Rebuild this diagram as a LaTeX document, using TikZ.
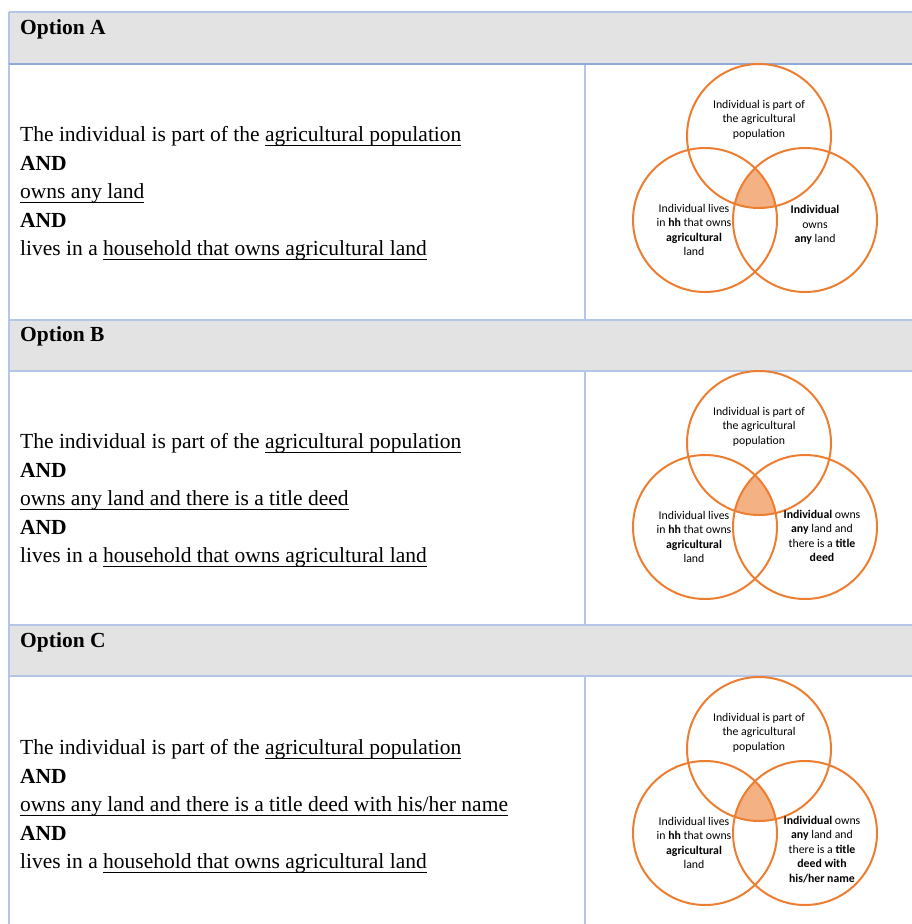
\documentclass[tikz,border=0pt]{standalone}
\usepackage{fontspec}
\setmainfont{Liberation Serif}
\newfontfamily\vennfont{Carlito}
\usepackage{tikz}
\usetikzlibrary{positioning}
\definecolor{ember}{HTML}{ED7D31}
\definecolor{peach}{HTML}{F4B183}
\definecolor{headgrey}{HTML}{E3E3E3}
\definecolor{gridblue}{HTML}{B4C6E7}
\definecolor{gridbold}{HTML}{8EAADB}
% underline at a fixed depth, crossing the descenders
\newsavebox\ulbox
\newcommand\uln[1]{\sbox\ulbox{#1}\rlap{\rule[-3.7pt]{\wd\ulbox}{0.9pt}}\usebox\ulbox}

\begin{document}
\begin{tikzpicture}[
  x=1pt, y=-1pt,
  ring/.style={circle, draw=ember, line width=2pt, minimum size=144pt, inner sep=0pt},
  core/.style={fill=peach},
  blurb/.style={font=\vennfont\fontsize{11.8}{14.4}\selectfont, align=center, inner sep=0pt},
  heading/.style={font=\bfseries\fontsize{21.5}{25}\selectfont, anchor=base west, inner sep=0pt},
  rowtext/.style={font=\fontsize{21.5}{28.5}\selectfont, align=left, anchor=west, inner sep=0pt},
  border/.style={draw=gridblue, line width=1.2pt},
]
\useasboundingbox (0,0) rectangle (912,924);

% grey heading bars
\fill[headgrey] (9,12) rectangle (912,63);
\fill[headgrey] (9,320) rectangle (912,371);
\fill[headgrey] (9,625) rectangle (912,676);

% table rules
\draw[border] (9,12) -- (912,12);
\draw[border] (9,12) -- (9,924);
\draw[border] (9,320) -- (912,320);
\draw[border] (9,371) -- (912,371);
\draw[border] (9,625) -- (912,625);
\draw[border] (9,676) -- (912,676);
\draw[border, draw=gridbold, line width=2.6pt] (9,64) -- (912,64);
\draw[border] (585,65) -- (585,320);
\draw[border] (585,371) -- (585,625);
\draw[border] (585,676) -- (585,924);

\node[heading] (optA) at (20,34) {Option A};
\node[heading] (optB) at (20,341) {Option B};
\node[heading] (optC) at (20,647) {Option C};

% --- option A ---
\node[rowtext] (condA) at (20,193.7) {The individual is part of the \uln{agricultural population}\\
  \textbf{AND}\\ \uln{owns any land}\\ \textbf{AND}\\
  lives in a \uln{household that owns agricultural land}};

% shared part of the three sets
\begin{scope}
  \clip (759,136) circle[radius=72pt];
  \clip (705,220) circle[radius=72pt];
  \fill[core] (805,220) circle[radius=72pt];
\end{scope}
\node[ring] (popA) at (759,136) {};
\node[ring] (hhA) at (705,220) {};
\node[ring] (landA) at (805,220) {};
\node[blurb] (popAtxt) at (759,119.5) {Individual is part of\\ the agricultural\\ population};
\node[blurb] (hhAtxt) at (694,230) {Individual lives\\ in \textbf{hh} that owns\\ \textbf{agricultural}\\ land};
\node[blurb] (landAtxt) at (815,225) {\textbf{Individual}\\ owns\\ \textbf{any} land};

% --- option B ---
\begin{scope}[shift={(0,307)}]
\node[rowtext] (condB) at (20,193.7) {The individual is part of the \uln{agricultural population}\\
  \textbf{AND}\\ \uln{owns any land and there is a title deed}\\ \textbf{AND}\\
  lives in a \uln{household that owns agricultural land}};

\begin{scope}
  \clip (759,136) circle[radius=72pt];
  \clip (705,220) circle[radius=72pt];
  \fill[core] (805,220) circle[radius=72pt];
\end{scope}
\node[ring] (popB) at (759,136) {};
\node[ring] (hhB) at (705,220) {};
\node[ring] (landB) at (805,220) {};
\node[blurb] (popBtxt) at (759,119.5) {Individual is part of\\ the agricultural\\ population};
\node[blurb] (hhBtxt) at (694,230) {Individual lives\\ in \textbf{hh} that owns\\ \textbf{agricultural}\\ land};
\node[blurb] (landBtxt) at (822,229) {\textbf{Individual} owns\\ \textbf{any} land and\\ there is a \textbf{title}\\ \textbf{deed}};
\end{scope}

% --- option C ---
\begin{scope}[shift={(0,613)}]
\node[rowtext] (condC) at (20,193.7) {The individual is part of the \uln{agricultural population}\\
  \textbf{AND}\\ \uln{owns any land and there is a title deed with his/her name}\\ \textbf{AND}\\
  lives in a \uln{household that owns agricultural land}};

\begin{scope}
  \clip (759,136) circle[radius=72pt];
  \clip (705,220) circle[radius=72pt];
  \fill[core] (805,220) circle[radius=72pt];
\end{scope}
\node[ring] (popC) at (759,136) {};
\node[ring] (hhC) at (705,220) {};
\node[ring] (landC) at (805,220) {};
\node[blurb] (popCtxt) at (759,119.5) {Individual is part of\\ the agricultural\\ population};
\node[blurb] (hhCtxt) at (694,230) {Individual lives\\ in \textbf{hh} that owns\\ \textbf{agricultural}\\ land};
\node[blurb] (landCtxt) at (822,236.5) {\textbf{Individual} owns\\ \textbf{any} land and\\ there is a \textbf{title}\\ \textbf{deed with}\\ \textbf{his/her name}};
\end{scope}

\end{tikzpicture}
\end{document}
